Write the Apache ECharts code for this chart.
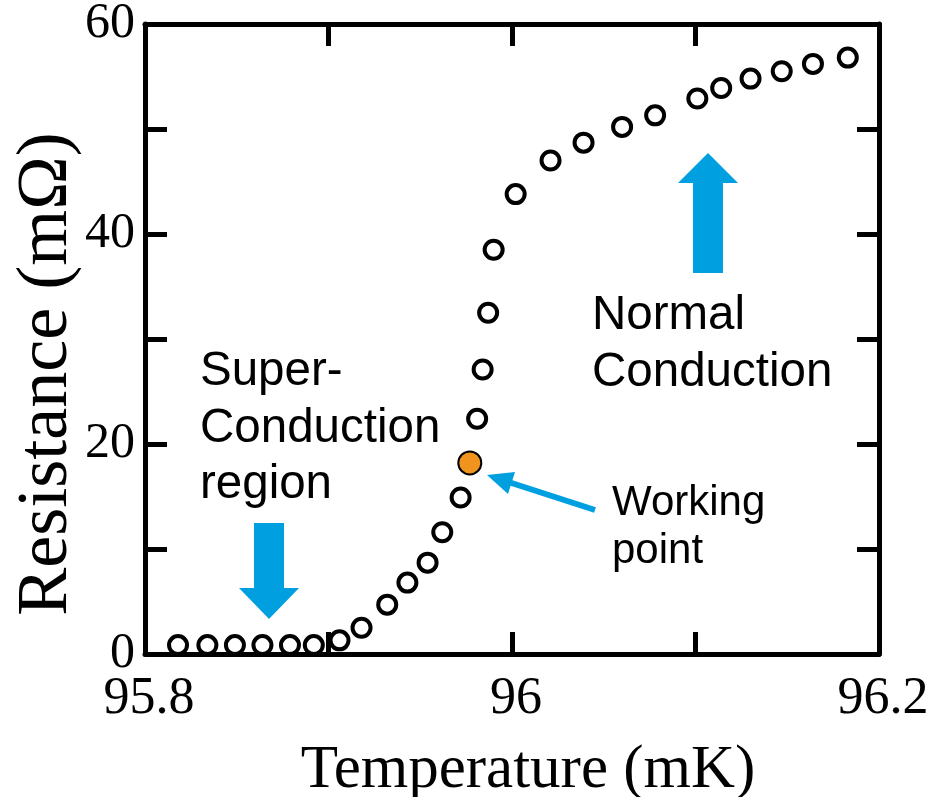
<!DOCTYPE html>
<html>
<head>
<meta charset="utf-8">
<script src="https://cdn.jsdelivr.net/npm/echarts@6/dist/echarts.min.js"></script>
<style>html,body{margin:0;padding:0;background:#fff}#c{width:928px;height:797px}</style>
</head>
<body>
<div id="c"></div>
<script>
// ---- data ----
const temperature = [95.818, 95.834, 95.849, 95.864, 95.879, 95.892, 95.906, 95.918, 95.932, 95.943,
  95.954, 95.962, 95.972, 95.981, 95.984, 95.987, 95.990, 96.002, 96.021, 96.039,
  96.060, 96.078, 96.101, 96.114, 96.130, 96.147, 96.164, 96.183];
const resistance = [0.85, 0.85, 0.85, 0.85, 0.85, 0.85, 1.3, 2.5, 4.7, 6.8,
  8.7, 11.6, 14.9, 22.4, 27.1, 32.5, 38.5, 43.8, 47.0, 48.7,
  50.2, 51.3, 52.9, 53.9, 54.8, 55.5, 56.2, 56.8];
const workingPointT = [95.977];
const workingPointR = [18.2];
const xTickLabels = ['95.8', '96', '96.2'];
const yTickLabels = ['0', '20', '40', '60'];
const xTitle = 'Temperature (mK)';
const yTitle = 'Resistance (mΩ)';

const serif = '"Liberation Serif", "Times New Roman", serif';
const sans = '"Liberation Sans", Arial, sans-serif';
const blue = '#00A0E0';

const fmtX = v => { const s = String(Math.round(v * 10) / 10); return xTickLabels.includes(s) ? s : ''; };
const fmtY = v => { const s = String(Math.round(v)); return yTickLabels.includes(s) ? s : ''; };

const axisLineStyle = { show: true, onZero: false, lineStyle: { color: '#000', width: 5 } };
const tickStyle = { show: true, inside: true, length: 22, lineStyle: { color: '#000', width: 5 } };

const chart = echarts.init(document.getElementById('c'), null, { renderer: 'canvas' });

const graphics = [];
// down arrow (super-conduction)
graphics.push({ type: 'polygon', shape: { points: [[254,523],[284,523],[284,588],[299,588],[269,619],[239,588],[254,588]] }, style: { fill: blue }, z: 10 });
// up arrow (normal conduction)
graphics.push({ type: 'polygon', shape: { points: [[693,273],[723,273],[723,183],[738,183],[708,153],[678,183],[693,183]] }, style: { fill: blue }, z: 10 });
// working point arrow
graphics.push({ type: 'line', shape: { x1: 595, y1: 510, x2: 510, y2: 482.5 }, style: { stroke: blue, lineWidth: 6 }, z: 10 });
graphics.push({ type: 'polygon', shape: { points: [[487,475],[515,472],[508,494]] }, style: { fill: blue }, z: 10 });

function addText(txt, x, baseline, fs) {
  graphics.push({ type: 'text', x: x, y: baseline, z: 10,
    style: { text: txt, font: fs + 'px ' + sans, fill: '#000', textAlign: 'left', textVerticalAlign: 'bottom' } });
}
const superLines = ['Super-', 'Conduction', 'region'];
const superBase = [386, 443, 499];
superLines.forEach((t, i) => addText(t, 200, superBase[i] + 10, 47.5));
const normalLines = ['Normal', 'Conduction'];
const normalBase = [330, 387];
normalLines.forEach((t, i) => addText(t, 592, normalBase[i] + 10, 47.5));
const workLines = ['Working', 'point'];
const workBase = [515, 563];
workLines.forEach((t, i) => addText(t, 612, workBase[i] + 9, 42));

chart.setOption({
  animation: false,
  backgroundColor: '#fff',
  grid: { left: 145, right: 49, top: 24, bottom: 143, containLabel: false, outerBoundsMode: 'none' },
  xAxis: [
    { type: 'value', position: 'bottom', min: 95.8, max: 96.2, interval: 0.1,
      name: xTitle, nameLocation: 'middle', nameGap: 86, nameMoveOverlap: false,
      nameTextStyle: { fontFamily: serif, fontSize: 61, color: '#000', padding: [0, 0, 0, 32] },
      axisLine: axisLineStyle, axisTick: tickStyle, splitLine: { show: false },
      axisLabel: { formatter: fmtX, fontFamily: serif, fontSize: 52, color: '#000', margin: 19, padding: [0, 0, 0, 8] } },
    { type: 'value', position: 'top', min: 95.8, max: 96.2, interval: 0.1,
      axisLine: axisLineStyle, axisTick: tickStyle, splitLine: { show: false }, axisLabel: { show: false } }
  ],
  yAxis: [
    { type: 'value', position: 'left', min: 0, max: 60, interval: 10,
      name: yTitle, nameLocation: 'middle', nameGap: 62, nameMoveOverlap: false,
      nameTextStyle: { fontFamily: serif, fontSize: 72, color: '#000', padding: [0, 70, 0, 0] },
      axisLine: axisLineStyle, axisTick: tickStyle, splitLine: { show: false },
      axisLabel: { formatter: fmtY, fontFamily: serif, fontSize: 50, color: '#000', margin: 10, padding: [0, 0, 8, 0] } },
    { type: 'value', position: 'right', min: 0, max: 60, interval: 10,
      axisLine: axisLineStyle, axisTick: tickStyle, splitLine: { show: false }, axisLabel: { show: false } }
  ],
  series: [
    { type: 'scatter', xAxisIndex: 0, yAxisIndex: 0, symbol: 'circle', symbolSize: 18,
      itemStyle: { color: '#fff', borderColor: '#000', borderWidth: 4, opacity: 1 },
      data: temperature.map((t, i) => [t, resistance[i]]), z: 5 },
    { type: 'scatter', xAxisIndex: 0, yAxisIndex: 0, symbol: 'circle', symbolSize: 23,
      itemStyle: { color: '#F0941E', borderColor: '#000', borderWidth: 2, opacity: 1 },
      data: workingPointT.map((t, i) => [t, workingPointR[i]]), z: 6 }
  ],
  graphic: graphics
});
</script>
</body>
</html>
